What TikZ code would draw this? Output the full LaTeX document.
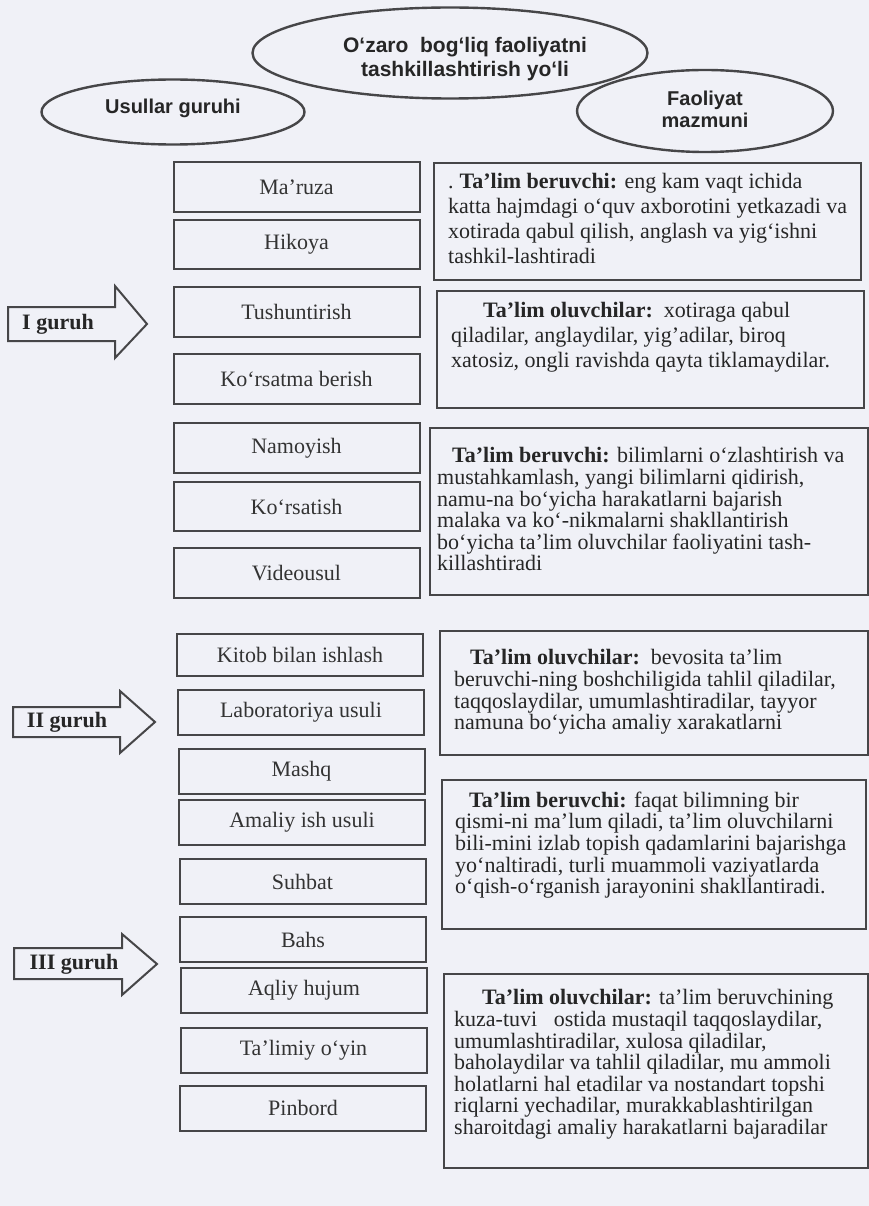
\documentclass[tikz,border=0pt]{standalone}
\usepackage{fontspec}
\setmainfont{Liberation Serif}
\newfontfamily\ovalfont{Liberation Sans}
\usetikzlibrary{shapes.geometric}

\definecolor{paper}{RGB}{240,241,247}
\definecolor{ink}{RGB}{70,70,72}

\tikzset{
  oval/.style={ellipse, draw=ink, line width=2.4pt, inner sep=0pt},
  ovaltext/.style={font=\ovalfont\bfseries\fontsize{21}{24}\selectfont, align=center, text=black!85},
  method/.style={draw=ink, line width=2pt, fill=paper, minimum width=246pt, minimum height=45pt,
    font=\fontsize{22}{24}\selectfont, text=black!80},
  descbox/.style={draw=ink, line width=2pt, anchor=north west, inner sep=0pt},
  desctext/.style={anchor=north west, inner sep=0pt, align=left, text=black!85},
  grouparrow/.style={draw=ink, line width=2pt, line join=miter},
  grouplabel/.style={font=\bfseries\fontsize{22}{24}\selectfont, text=black!85},
}

\begin{document}
\begin{tikzpicture}[x=1pt,y=-1pt]

        \fill[paper] (0,0) rectangle (869,1206);
        \useasboundingbox (0,0) rectangle (869,1206);

        % ovals at the top
        \node[oval, minimum width=395pt, minimum height=91pt] (way)   at (450,53)  {};
        \node[oval, minimum width=263pt, minimum height=65pt] (group) at (173,112) {};
        \node[oval, minimum width=256pt, minimum height=82pt] (act)   at (705,111) {};
        \node[ovaltext] (waytext)   at (465,59)  {O‘zaro\ \ bog‘liq faoliyatni\\tashkillashtirish yo‘li};
        \node[ovaltext, font=\ovalfont\bfseries\fontsize{20}{22}\selectfont] (grouptext) at (173,108) {Usullar guruhi};
        \node[ovaltext, font=\ovalfont\bfseries\fontsize{20}{22}\selectfont] (acttext)   at (705,109) {Faoliyat\\mazmuni};

        % methods
        \begin{scope}[every node/.style={method}]
          \node[minimum height=50pt] (m1)  at (296.5,187)   {Ma’ruza};
          \node[minimum height=49pt] (m2)  at (296.5,244.5) {Hikoya};
          \node[minimum height=50pt] (m3)  at (296.5,312)   {Tushuntirish};
          \node[minimum height=50pt] (m4)  at (296.5,379)   {Ko‘rsatma berish};
          \node[minimum height=50pt] (m5)  at (296.5,448)   {Namoyish};
          \node[minimum height=49pt] (m6)  at (296.5,506.5) {Ko‘rsatish};
          \node[minimum height=50pt] (m7)  at (296.5,573)   {Videousul};
          \node[minimum height=42pt] (m8)  at (300,655)     {Kitob bilan ishlash};
          \node (m9)  at (301,712.5)   {Laboratoriya usuli};
          \node (m10) at (301.5,771)   {Mashq};
          \node (m11) at (302,822.5)   {Amaliy ish usuli};
          \node (m12) at (302.5,881.5) {Suhbat};
          \node (m13) at (303,939.5)   {Bahs};
          \node (m14) at (304,990.5)   {Aqliy hujum};
          \node (m15) at (303.5,1050.5) {Ta’limiy o‘yin};
          \node (m16) at (303,1108)    {Pinbord};
        \end{scope}

        % group arrows
        \draw[grouparrow] (8,307) -- (115,307) -- (115,286) -- (147,324) -- (115,358) -- (115,341) -- (8,341) -- cycle;
        \draw[grouparrow] (13,707) -- (120,707) -- (120,691) -- (155,722) -- (120,753) -- (120,737) -- (13,737) -- cycle;
        \draw[grouparrow] (14,948) -- (122,948) -- (122,934) -- (157,964) -- (122,995) -- (122,979) -- (14,979) -- cycle;
        \node[grouplabel] (g1) at (58,324) {I guruh};
        \node[grouplabel] (g2) at (67,722) {II guruh};
        \node[grouplabel] (g3) at (74,964) {III guruh};

        % activity boxes
        \node[descbox, minimum width=427pt, minimum height=117pt] (d1) at (433,162) {};
        \node[descbox, minimum width=427pt, minimum height=117pt] (d2) at (436,290) {};
        \node[descbox, minimum width=438pt, minimum height=167pt] (d3) at (429,427) {};
        \node[descbox, minimum width=428pt, minimum height=124pt] (d4) at (439,630) {};
        \node[descbox, minimum width=424pt, minimum height=149pt] (d5) at (441,779) {};
        \node[descbox, minimum width=424pt, minimum height=194pt] (d6) at (443,973) {};

        \begin{scope}[every node/.style={desctext, font=\fontsize{22}{25}\selectfont}]
          \node (t1) at (448,173.5) {.\hspace*{6pt}\textbf{Ta’lim beruvchi:} eng kam vaqt ichida\\
            katta hajmdagi o‘quv axborotini yetkazadi va\\
            xotirada qabul qilish, anglash va yig‘ishni\\
            tashkil-lashtiradi};
          \node (t2) at (451,302.5) {\hspace*{32pt}\textbf{Ta’lim oluvchilar:}\ \ xotiraga qabul\\
            qiladilar, anglaydilar, yig’adilar, biroq\\
            xatosiz, ongli ravishda qayta tiklamaydilar.};
        \end{scope}

        \begin{scope}[every node/.style={desctext, font=\fontsize{22}{21.6}\selectfont}]
          \node (t3) at (437,447.5) {\hspace*{15pt}\textbf{Ta’lim beruvchi:} bilimlarni o‘zlashtirish va\\
            mustahkamlash, yangi bilimlarni qidirish,\\
            namu-na bo‘yicha harakatlarni bajarish\\
            malaka va ko‘-nikmalarni shakllantirish\\
            bo‘yicha ta’lim oluvchilar faoliyatini tash-\\
            killashtiradi};
          \node (t4) at (454,649.5) {\hspace*{16pt}\textbf{Ta’lim oluvchilar:}\ \ bevosita ta’lim\\
            beruvchi-ning boshchiligida tahlil qiladilar,\\
            taqqoslaydilar, umumlashtiradilar, tayyor\\
            namuna bo‘yicha amaliy xarakatlarni};
          \node (t5) at (455,791.5) {\hspace*{14pt}\textbf{Ta’lim beruvchi:} faqat bilimning bir\\
            qismi-ni ma’lum qiladi, ta’lim oluvchilarni\\
            bili-mini izlab topish qadamlarini bajarishga\\
            yo‘naltiradi, turli muammoli vaziyatlarda\\
            o‘qish-o‘rganish jarayonini shakllantiradi.};
          \node (t6) at (454,989.5) {\hspace*{28pt}\textbf{Ta’lim oluvchilar:} ta’lim beruvchining\\
            kuza-tuvi\ \ \ ostida mustaqil taqqoslaydilar,\\
            umumlashtiradilar, xulosa qiladilar,\\
            baholaydilar va tahlil qiladilar, mu ammoli\\
            holatlarni hal etadilar va nostandart topshi\\
            riqlarni yechadilar, murakkablashtirilgan\\
            sharoitdagi amaliy harakatlarni bajaradilar};
        \end{scope}

      \end{tikzpicture}
\end{document}
